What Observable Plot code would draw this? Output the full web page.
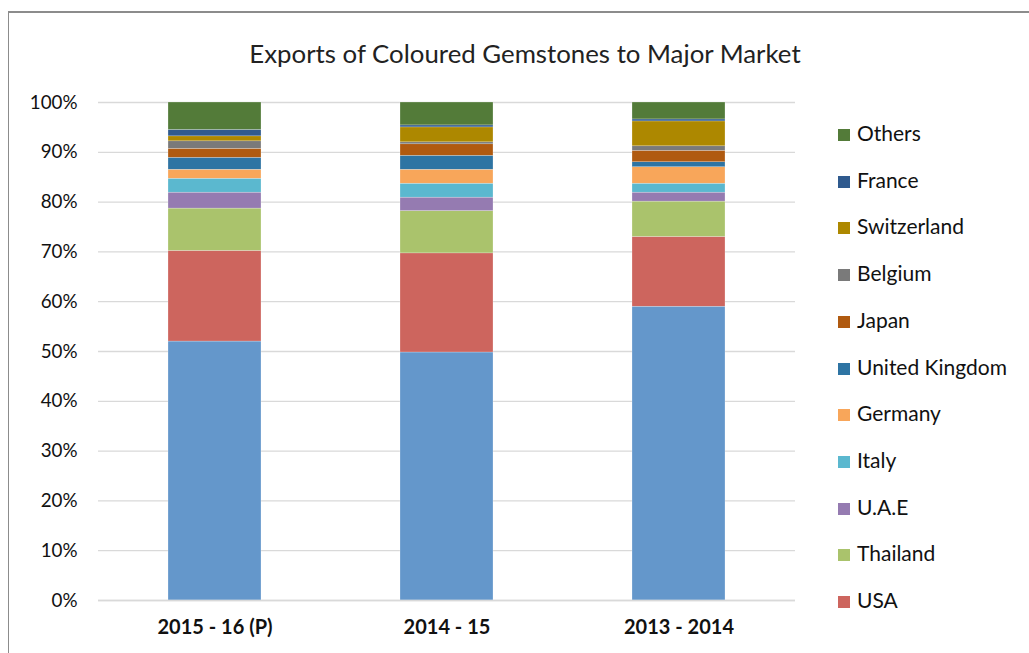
<!DOCTYPE html>
<html>
<head>
<meta charset="utf-8">
<script src="https://cdn.jsdelivr.net/npm/d3@7"></script>
<script src="https://cdn.jsdelivr.net/npm/@observablehq/plot@0.6"></script>
<style>
  html, body { margin: 0; padding: 0; background: #fff; }
  #wrap { position: relative; width: 1029px; height: 653px; overflow: hidden; font-family: Lato, "Open Sans", sans-serif; }
  #frame { position: absolute; left: 8px; top: 11px; width: 1100px; height: 700px; border-left: 1.5px solid #8c8c8c; border-top: 2px solid #8c8c8c; box-sizing: border-box; }
  #title { position: absolute; left: 0; width: 1050px; top: 38px; text-align: center; font-size: 25.8px; color: #222; }
  #chart { position: absolute; left: 0; top: 0; }
  .lg { position: absolute; left: 838px; font-size: 21px; color: #111; height: 22px; line-height: 22px; white-space: nowrap; }
  .lg span.sw { display: inline-block; width: 12px; height: 12px; margin-right: 7px; vertical-align: 0px; }
</style>
</head>
<body>
<div id="wrap">
  <div id="frame"></div>
  <div id="title">Exports of Coloured Gemstones to Major Market</div>
  <div id="chart"></div>
</div>
<script>
// Categories (x)
const years = ["2015 - 16 (P)", "2014 - 15", "2013 - 2014"];
// Series, bottom to top of each stack (first series is unnamed in the legend)
const markets = ["Hong Kong", "USA", "Thailand", "U.A.E", "Italy", "Germany", "United Kingdom", "Japan", "Belgium", "Switzerland", "France", "Others"];
const colors  = ["#6497cb", "#cd655e", "#aac36c", "#957bb1", "#5bb8cf", "#f8a65a", "#2e74a3", "#b05a10", "#7a7a7a", "#ad8800", "#2f5a8e", "#537b39"];
// Shares (%) per year, same order as markets
const share2015_16 = [52.0, 18.2, 8.5, 3.2, 2.8, 1.8, 2.4, 1.8, 1.5, 1.0, 1.3, 5.5];
const share2014_15 = [49.8, 19.9, 8.5, 2.7, 2.8, 2.8, 2.8, 2.3, 0.4, 3.0, 0.4, 4.6];
const share2013_14 = [59.0, 14.0, 7.1, 1.8, 1.8, 3.3, 1.0, 2.3, 0.9, 5.0, 0.4, 3.4];
// Legend entries, top to bottom
const legendItems = ["Others", "France", "Switzerland", "Belgium", "Japan", "United Kingdom", "Germany", "Italy", "U.A.E", "Thailand", "USA"];
const yTicks = [0, 10, 20, 30, 40, 50, 60, 70, 80, 90, 100];

const series = [share2015_16, share2014_15, share2013_14];
const rows = [];
markets.forEach((m, i) => {
  years.forEach((y, j) => rows.push({year: y, market: m, value: series[j][i]}));
});

const plot = Plot.plot({
  width: 1029,
  height: 653,
  marginLeft: 98,
  marginRight: 234,
  marginTop: 102,
  marginBottom: 53,
  style: {fontFamily: "Lato, 'Open Sans', sans-serif", background: "transparent", overflow: "visible"},
  x: {domain: years, paddingInner: 0.6, paddingOuter: 0.3, label: null},
  y: {domain: [0, 100], label: null},
  color: {domain: markets, range: colors},
  marks: [
    Plot.gridY(yTicks, {stroke: "#d9d9d9", strokeOpacity: 1, strokeWidth: 1.3}),
    Plot.barY(rows, {x: "year", y: "value", fill: "market", order: null, stroke: "white", strokeWidth: 0.4, strokeOpacity: 0.6}),
    Plot.ruleY([0], {stroke: "#d9d9d9", strokeWidth: 1.3}),
    Plot.axisY(yTicks, {tickSize: 0, tickPadding: 21, tickFormat: d => d + "%", fontSize: 18.8, fill: "#111", label: null}),
    Plot.axisX({tickSize: 0, tickPadding: 19, fontSize: 20, fontWeight: "bold", fill: "#111", label: null})
  ]
});
document.getElementById("chart").appendChild(plot);

const wrap = document.getElementById("wrap");
legendItems.forEach((name, k) => {
  const d = document.createElement("div");
  d.className = "lg";
  d.style.top = (122 + k * 46.7) + "px";
  const sw = document.createElement("span");
  sw.className = "sw";
  sw.style.background = colors[markets.indexOf(name)];
  d.appendChild(sw);
  d.appendChild(document.createTextNode(name));
  wrap.appendChild(d);
});
</script>
</body>
</html>
